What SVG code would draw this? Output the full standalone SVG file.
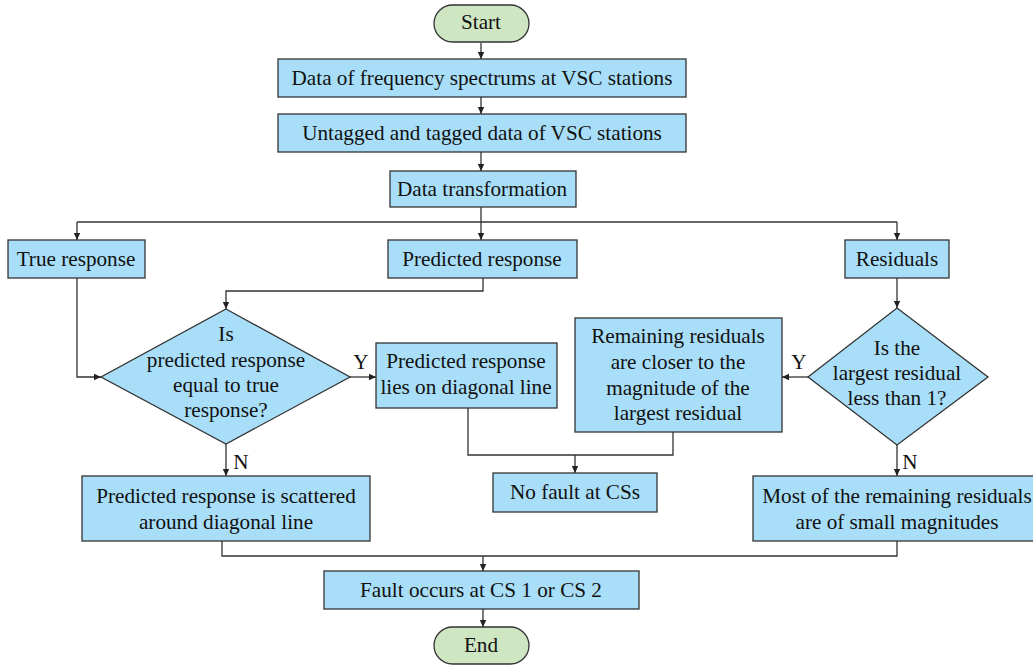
<svg xmlns="http://www.w3.org/2000/svg" width="1033" height="668" viewBox="0 0 1033 668">
<style>
.b{fill:#a9def8;stroke:#333;stroke-width:1.3}
.g{fill:#cfe6c3;stroke:#333;stroke-width:1.3}
text{font-family:'Liberation Serif','Tinos','DejaVu Serif',serif;font-size:21.2px;fill:#111;text-anchor:middle}
.c{fill:none;stroke:#333;stroke-width:1.3}
</style>
<defs>
<marker id="a" markerWidth="8" markerHeight="8" refX="7" refY="4" orient="auto" markerUnits="userSpaceOnUse">
<path d="M0,0.8 L7,4 L0,7.2 Z" fill="#222"/>
</marker>
</defs>
<rect width="1033" height="668" fill="#fff"/>
<g id="connectors" class="c">
<path d="M481,43 V59" marker-end="url(#a)"/>
<path d="M481,97 V114" marker-end="url(#a)"/>
<path d="M481,152 V171" marker-end="url(#a)"/>
<path d="M481,207 V240" marker-end="url(#a)"/>
<path d="M77,222 H897"/>
<path d="M77,222 V240" marker-end="url(#a)"/>
<path d="M897,222 V240" marker-end="url(#a)"/>
<path d="M483,278 V291 H226 V309" marker-end="url(#a)"/>
<path d="M77,278 V377 H101" marker-end="url(#a)"/>
<path d="M350,377 H376" marker-end="url(#a)"/>
<path d="M897,278 V308" marker-end="url(#a)"/>
<path d="M808,377 H782" marker-end="url(#a)"/>
<path d="M226,444 V476" marker-end="url(#a)"/>
<path d="M897,445 V476" marker-end="url(#a)"/>
<path d="M468,408 V455 H673 V432"/>
<path d="M575,455 V473" marker-end="url(#a)"/>
<path d="M222,541 V556 H897 V541"/>
<path d="M483,556 V571" marker-end="url(#a)"/>
<path d="M483,609 V627" marker-end="url(#a)"/>
</g>
<g id="start"><rect class="g" x="434" y="5" width="95" height="37" rx="18.5"/><text x="481" y="29">Start</text></g>
<g id="n1"><rect class="b" x="278" y="59" width="408" height="38"/><text x="482" y="85">Data of frequency spectrums at VSC stations</text></g>
<g id="n2"><rect class="b" x="278" y="114" width="408" height="38"/><text x="482" y="140">Untagged and tagged data of VSC stations</text></g>
<g id="n3"><rect class="b" x="390" y="171" width="186" height="36"/><text x="482" y="196">Data transformation</text></g>
<g id="true"><rect class="b" x="8" y="240" width="137" height="38"/><text x="76" y="266">True response</text></g>
<g id="pred"><rect class="b" x="388" y="240" width="189" height="38"/><text x="482" y="266">Predicted response</text></g>
<g id="res"><rect class="b" x="845" y="240" width="104" height="38"/><text x="897" y="266">Residuals</text></g>
<g id="d1"><polygon class="b" points="226,309 350,377 226,444 101,377"/>
<text x="226" y="341">Is</text><text x="226" y="367">predicted response</text><text x="226" y="392">equal to true</text><text x="226" y="417">response?</text></g>
<text x="361" y="369">Y</text>
<g id="lies"><rect class="b" x="376" y="343" width="181" height="65"/><text x="466" y="368">Predicted response</text><text x="466" y="394">lies on diagonal line</text></g>
<g id="remain"><rect class="b" x="575" y="318" width="207" height="114"/>
<text x="678" y="343">Remaining residuals</text><text x="678" y="369">are closer to the</text><text x="678" y="395">magnitude of the</text><text x="678" y="420">largest residual</text></g>
<g id="d2"><polygon class="b" points="897,308 988,377 897,445 808,377"/>
<text x="897" y="355">Is the</text><text x="897" y="380">largest residual</text><text x="897" y="405">less than 1?</text></g>
<text x="799" y="369">Y</text>
<text x="241" y="469">N</text>
<text x="910" y="469">N</text>
<g id="nofault"><rect class="b" x="493" y="473" width="164" height="39"/><text x="575" y="499">No fault at CSs</text></g>
<g id="scatter"><rect class="b" x="82" y="476" width="288" height="65"/><text x="226" y="503">Predicted response is scattered</text><text x="226" y="529">around diagonal line</text></g>
<g id="most"><rect class="b" x="753" y="476" width="290" height="65"/><text x="897" y="503">Most of the remaining residuals</text><text x="897" y="529">are of small magnitudes</text></g>
<g id="fault"><rect class="b" x="324" y="571" width="315" height="38"/><text x="481" y="597">Fault occurs at CS 1 or CS 2</text></g>
<g id="end"><rect class="g" x="434" y="627" width="95" height="37" rx="18.5"/><text x="481" y="652">End</text></g>
</svg>
